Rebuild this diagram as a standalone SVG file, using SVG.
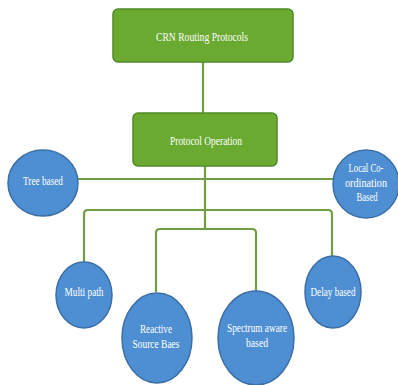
<svg xmlns="http://www.w3.org/2000/svg" width="398" height="385" viewBox="0 0 398 385">
<style>
.box{fill:#6aaa30;stroke:#4f8a26;stroke-width:1.5}
.cir{fill:#4e8fd4;stroke:#3c6fa6;stroke-width:1.5}
.ln{fill:none;stroke:#6f9f42;stroke-width:2.2}
text{font-family:"Liberation Serif",serif;font-size:12px;fill:#ffffff;text-anchor:middle}
</style>
<rect width="398" height="385" fill="#ffffff"/>
<g id="connectors">
<path class="ln" d="M203 62V113"/>
<path class="ln" d="M205 166V229"/>
<path class="ln" d="M78 179H333"/>
<path class="ln" d="M84 262V214Q84 210 88 210H328Q332 210 332 214V256"/>
<path class="ln" d="M156 292V233Q156 229 160 229H252Q256 229 256 233V291"/>
</g>
<g id="crn">
<rect class="box" x="113" y="9" width="180" height="53" rx="5"/>
<text x="202" y="41" textLength="92" lengthAdjust="spacingAndGlyphs">CRN Routing Protocols</text>
</g>
<g id="protocol-operation">
<rect class="box" x="133" y="113" width="144" height="53" rx="5"/>
<text x="206" y="145" textLength="72" lengthAdjust="spacingAndGlyphs">Protocol Operation</text>
</g>
<g id="tree-based">
<ellipse class="cir" cx="43" cy="183" rx="35" ry="33"/>
<text x="43" y="185" textLength="40" lengthAdjust="spacingAndGlyphs">Tree based</text>
</g>
<g id="local-coordination">
<ellipse class="cir" cx="366" cy="184" rx="33" ry="34"/>
<text x="366" y="172" textLength="35" lengthAdjust="spacingAndGlyphs">Local Co-</text>
<text x="366" y="187" textLength="42" lengthAdjust="spacingAndGlyphs">ordination</text>
<text x="367" y="201" textLength="21" lengthAdjust="spacingAndGlyphs">Based</text>
</g>
<g id="multi-path">
<ellipse class="cir" cx="84" cy="295" rx="28" ry="33"/>
<text x="84" y="296" textLength="39" lengthAdjust="spacingAndGlyphs">Multi path</text>
</g>
<g id="reactive">
<ellipse class="cir" cx="157" cy="338" rx="35" ry="45"/>
<text x="156" y="333" textLength="32" lengthAdjust="spacingAndGlyphs">Reactive</text>
<text x="156" y="348" textLength="47" lengthAdjust="spacingAndGlyphs">Source Baes</text>
</g>
<g id="spectrum">
<ellipse class="cir" cx="256" cy="338" rx="38" ry="47"/>
<text x="257" y="332" textLength="60" lengthAdjust="spacingAndGlyphs">Spectrum aware</text>
<text x="257" y="347" textLength="22" lengthAdjust="spacingAndGlyphs">based</text>
</g>
<g id="delay-based">
<ellipse class="cir" cx="333" cy="292" rx="28" ry="36"/>
<text x="333" y="296" textLength="45" lengthAdjust="spacingAndGlyphs">Delay based</text>
</g>
</svg>
